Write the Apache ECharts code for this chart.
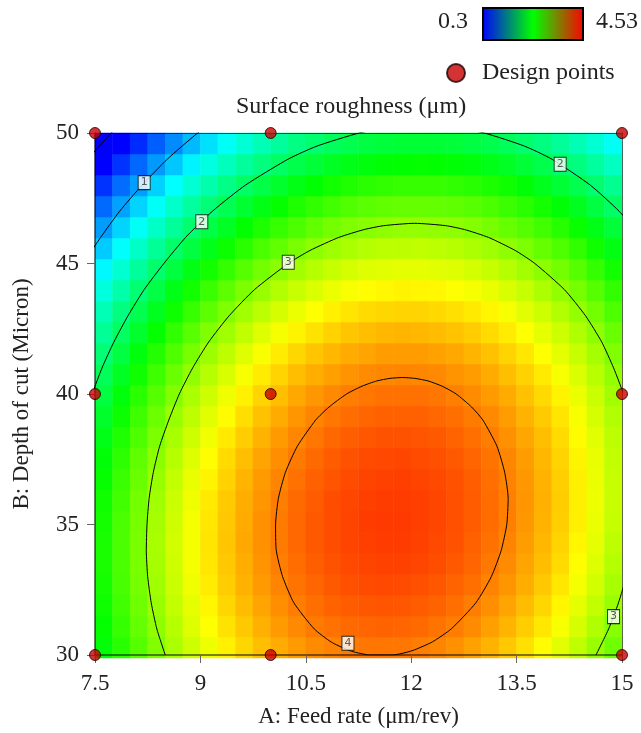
<!DOCTYPE html>
<html><head><meta charset="utf-8">
<script src="https://cdn.jsdelivr.net/npm/echarts@6/dist/echarts.min.js"></script>
<style>html,body{margin:0;padding:0;background:#fff}#c{width:641px;height:733px}</style>
</head><body><div id="c"></div>
<script>
// ---- data ----
// heatmap cell centres
const feedRateCells = [7.625,7.875,8.125,8.375,8.625,8.875,9.125,9.375,9.625,9.875,10.125,10.375,10.625,10.875,11.125,11.375,11.625,11.875,12.125,12.375,12.625,12.875,13.125,13.375,13.625,13.875,14.125,14.375,14.625,14.875];
const depthCells = [30.4,31.2,32.0,32.8,33.6,34.4,35.2,36.0,36.8,37.6,38.4,39.2,40.0,40.8,41.6,42.4,43.2,44.0,44.8,45.6,46.4,47.2,48.0,48.8,49.6];
// surface roughness estimated per cell, one row per depth (bottom row first)
const roughnessGrid = [
[2.38,2.58,2.77,2.95,3.12,3.27,3.40,3.53,3.64,3.74,3.82,3.89,3.95,3.99,4.02,4.04,4.04,4.04,4.01,3.98,3.93,3.86,3.79,3.70,3.60,3.48,3.35,3.21,3.05,2.88],
[2.43,2.64,2.83,3.01,3.17,3.33,3.47,3.59,3.70,3.80,3.89,3.96,4.02,4.06,4.09,4.11,4.12,4.11,4.09,4.05,4.01,3.95,3.87,3.78,3.68,3.57,3.44,3.30,3.14,2.97],
[2.47,2.68,2.87,3.05,3.22,3.37,3.51,3.64,3.75,3.85,3.94,4.01,4.07,4.12,4.15,4.17,4.18,4.17,4.15,4.12,4.07,4.01,3.94,3.85,3.75,3.64,3.51,3.37,3.22,3.05],
[2.50,2.71,2.90,3.08,3.25,3.41,3.55,3.68,3.79,3.89,3.98,4.05,4.11,4.16,4.20,4.22,4.23,4.22,4.20,4.17,4.12,4.07,3.99,3.91,3.81,3.70,3.57,3.43,3.28,3.11],
[2.52,2.72,2.92,3.10,3.27,3.43,3.57,3.70,3.81,3.92,4.01,4.08,4.14,4.19,4.23,4.25,4.26,4.26,4.24,4.21,4.16,4.11,4.03,3.95,3.85,3.74,3.62,3.48,3.33,3.16],
[2.52,2.73,2.92,3.11,3.28,3.43,3.58,3.71,3.83,3.93,4.02,4.10,4.16,4.21,4.25,4.27,4.28,4.28,4.26,4.23,4.19,4.13,4.06,3.98,3.88,3.77,3.65,3.51,3.37,3.20],
[2.50,2.72,2.91,3.10,3.27,3.43,3.57,3.70,3.82,3.93,4.02,4.10,4.16,4.21,4.25,4.28,4.29,4.29,4.27,4.24,4.20,4.15,4.08,4.00,3.90,3.79,3.67,3.54,3.39,3.23],
[2.48,2.69,2.89,3.08,3.25,3.41,3.56,3.69,3.81,3.91,4.01,4.09,4.15,4.21,4.24,4.27,4.28,4.28,4.27,4.24,4.20,4.15,4.08,4.00,3.91,3.80,3.68,3.54,3.40,3.24],
[2.44,2.65,2.85,3.04,3.22,3.38,3.52,3.66,3.78,3.89,3.98,4.06,4.13,4.18,4.22,4.25,4.26,4.27,4.25,4.23,4.19,4.14,4.07,3.99,3.90,3.79,3.67,3.54,3.39,3.23],
[2.39,2.60,2.81,2.99,3.17,3.33,3.48,3.62,3.74,3.85,3.94,4.02,4.09,4.15,4.19,4.22,4.23,4.24,4.22,4.20,4.16,4.11,4.05,3.97,3.88,3.77,3.65,3.52,3.38,3.22],
[2.32,2.54,2.74,2.93,3.11,3.27,3.42,3.56,3.68,3.79,3.89,3.97,4.04,4.10,4.14,4.17,4.19,4.19,4.18,4.16,4.12,4.07,4.01,3.93,3.84,3.74,3.62,3.49,3.35,3.19],
[2.24,2.46,2.67,2.86,3.04,3.20,3.35,3.49,3.61,3.73,3.82,3.91,3.98,4.04,4.08,4.11,4.13,4.13,4.13,4.10,4.07,4.02,3.96,3.88,3.79,3.69,3.58,3.45,3.30,3.15],
[2.15,2.37,2.58,2.77,2.95,3.12,3.27,3.41,3.53,3.65,3.74,3.83,3.90,3.96,4.01,4.04,4.06,4.06,4.06,4.04,4.00,3.95,3.89,3.82,3.73,3.63,3.52,3.39,3.25,3.09],
[2.05,2.27,2.48,2.67,2.85,3.02,3.17,3.31,3.44,3.55,3.65,3.74,3.81,3.87,3.92,3.95,3.97,3.98,3.97,3.96,3.92,3.88,3.82,3.74,3.66,3.56,3.44,3.32,3.18,3.03],
[1.93,2.15,2.36,2.56,2.74,2.91,3.06,3.20,3.33,3.45,3.55,3.64,3.71,3.77,3.82,3.85,3.88,3.88,3.88,3.86,3.83,3.78,3.73,3.65,3.57,3.47,3.36,3.23,3.10,2.94],
[1.80,2.02,2.23,2.43,2.61,2.78,2.94,3.08,3.21,3.33,3.43,3.52,3.59,3.66,3.71,3.74,3.77,3.78,3.77,3.75,3.72,3.68,3.62,3.55,3.47,3.37,3.26,3.14,3.00,2.85],
[1.66,1.88,2.09,2.29,2.47,2.64,2.80,2.94,3.08,3.19,3.30,3.39,3.47,3.53,3.58,3.62,3.64,3.65,3.65,3.63,3.60,3.56,3.51,3.44,3.35,3.26,3.15,3.03,2.89,2.74],
[1.50,1.72,1.94,2.13,2.32,2.49,2.65,2.80,2.93,3.05,3.15,3.24,3.32,3.39,3.44,3.48,3.50,3.52,3.51,3.50,3.47,3.43,3.38,3.31,3.23,3.13,3.02,2.90,2.77,2.62],
[1.33,1.55,1.77,1.97,2.15,2.33,2.49,2.63,2.77,2.89,2.99,3.09,3.17,3.23,3.29,3.33,3.35,3.37,3.37,3.35,3.33,3.29,3.23,3.17,3.09,2.99,2.89,2.77,2.63,2.49],
[1.14,1.37,1.59,1.79,1.98,2.15,2.31,2.46,2.59,2.72,2.82,2.92,3.00,3.07,3.12,3.16,3.19,3.20,3.21,3.19,3.17,3.13,3.08,3.01,2.93,2.84,2.74,2.62,2.48,2.34],
[0.95,1.18,1.39,1.59,1.78,1.96,2.12,2.27,2.41,2.53,2.64,2.73,2.82,2.89,2.94,2.98,3.01,3.03,3.03,3.02,3.00,2.96,2.91,2.84,2.77,2.68,2.57,2.45,2.32,2.18],
[0.74,0.97,1.18,1.39,1.58,1.76,1.92,2.07,2.21,2.33,2.44,2.54,2.62,2.69,2.75,2.79,2.82,2.84,2.84,2.83,2.81,2.78,2.73,2.66,2.59,2.50,2.39,2.28,2.15,2.00],
[0.51,0.75,0.96,1.17,1.36,1.54,1.70,1.86,1.99,2.12,2.23,2.33,2.41,2.49,2.54,2.59,2.62,2.64,2.64,2.64,2.61,2.58,2.53,2.47,2.39,2.30,2.20,2.09,1.96,1.82],
[0.28,0.51,0.73,0.94,1.13,1.31,1.48,1.63,1.77,1.89,2.01,2.11,2.19,2.27,2.32,2.37,2.40,2.42,2.43,2.42,2.40,2.37,2.32,2.26,2.19,2.10,2.00,1.89,1.76,1.62],
[0.03,0.26,0.48,0.69,0.88,1.07,1.23,1.39,1.53,1.66,1.77,1.87,1.96,2.03,2.09,2.14,2.17,2.20,2.20,2.20,2.18,2.14,2.10,2.04,1.97,1.88,1.78,1.67,1.54,1.40]
];
const colorMin = 0.3, colorMax = 4.53;
const designPoints = [[7.5,30],[7.5,40],[7.5,50],[10,30],[10,40],[10,50],[15,30],[15,40],[15,50]];
const contour0 = [[7.26,48.5],[7.40,49],[7.73,50],[7.84,50.3]];
const contour1 = [[7.33,45],[7.58,46],[7.85,47],[8.17,48],[8.53,49],[8.96,50],[9.21,50.5]];
const contour2 = [[7.34,39],[7.46,40],[7.60,41],[7.77,42],[7.97,43],[8.20,44],[8.48,45],[8.79,46],[9.17,47],[9.64,48],[10.25,49],[10.66,49.5],[11.26,50],[11.69,50.2],[12.16,50.28],[12.63,50.2],[13.04,50],[13.61,49.5],[14.00,49],[14.55,48],[14.96,47],[15.28,46]];
const contour3 = [[8.50,30],[8.38,31],[8.30,32],[8.25,33],[8.23,34],[8.24,35],[8.27,36],[8.33,37],[8.42,38],[8.55,39],[8.70,40],[8.89,41],[9.12,42],[9.41,43],[9.77,44],[10.25,45],[10.56,45.5],[10.97,46],[11.33,46.3],[11.61,46.45],[12.05,46.54],[12.49,46.45],[12.76,46.3],[13.10,46],[13.48,45.5],[13.76,45],[14.18,44],[14.48,43],[14.71,42],[14.88,41],[15.02,40],[15.11,39],[15.18,38],[15.21,37],[15.21,36],[15.19,35],[15.14,34],[15.06,33],[14.95,32],[14.81,31],[14.63,30]];
const contour4 = [[11.39,30],[11.21,30.1],[11.09,30.2],[10.86,30.5],[10.62,31],[10.33,32],[10.17,33],[10.08,34],[10.07,35],[10.11,36],[10.21,37],[10.38,38],[10.64,39],[10.83,39.5],[11.08,40],[11.30,40.3],[11.51,40.5],[11.70,40.6],[11.88,40.63],[12.05,40.6],[12.24,40.5],[12.44,40.3],[12.64,40],[12.86,39.5],[13.02,39],[13.22,38],[13.33,37],[13.38,36],[13.36,35],[13.28,34],[13.14,33],[12.92,32],[12.57,31],[12.30,30.5],[12.05,30.2],[11.93,30.1],[11.74,30],[11.39,30]];
const contourLabels = [[8.2,48.1,1],[9.02,46.6,2],[10.25,45.05,3],[14.12,48.8,2],[11.1,30.45,4],[14.88,31.47,3]];

// ---- chart ----
const FONT = "'Liberation Serif', 'Times New Roman', serif";
const heatData = [];
roughnessGrid.forEach((row, j) => row.forEach((v, i) => heatData.push([i, j, v])));

const chart = echarts.init(document.getElementById('c'), null, {renderer: 'canvas'});
const gridBox = {left: 95, right: 19, top: 133, bottom: 75};
const lineSeries = (d) => ({
  type: 'line', xAxisIndex: 0, yAxisIndex: 0, data: d, showSymbol: false, symbol: 'none',
  smooth: 0.2, lineStyle: {color: '#000', width: 1}, z: 3, silent: true, clip: true
});
const option = {
  animation: false,
  backgroundColor: '#fff',
  title: {
    text: 'Surface roughness (μm)', left: 236, top: 95, padding: 0,
    textStyle: {fontFamily: FONT, fontSize: 24, fontWeight: 'normal', color: '#222'}
  },
  legend: {
    data: [{name: 'Design points', icon: 'circle'}],
    left: 446, top: 61, itemWidth: 18, itemHeight: 18, padding: 0,
    textStyle: {fontFamily: FONT, fontSize: 24, color: '#222', padding: [0, 0, 0, 12]}
  },
  visualMap: {
    show: false, type: 'continuous', min: colorMin, max: colorMax, seriesIndex: 0,
    inRange: {color: ['#0000ff', '#00ffff', '#00ff00', '#ffff00', '#ff0000']},
    outOfRange: {color: ['#0000ff']}
  },
  graphic: [
    {type: 'rect', left: 482, top: 7, shape: {width: 100, height: 32},
     style: {fill: new echarts.graphic.LinearGradient(0, 0, 1, 0, [
       {offset: 0, color: '#0000ff'}, {offset: 0.5, color: '#00ff00'}, {offset: 1, color: '#ff0000'}]),
       stroke: '#000', lineWidth: 2}},
    {type: 'text', right: 641 - 468, top: 10, style: {text: String(colorMin), font: '24px ' + FONT, fill: '#222'}},
    {type: 'text', left: 596, top: 10, style: {text: String(colorMax), font: '24px ' + FONT, fill: '#222'}}
  ],
  grid: [Object.assign({}, gridBox), Object.assign({}, gridBox)],
  xAxis: [
    {gridIndex: 0, type: 'value', min: 7.5, max: 15, interval: 1.5, position: 'bottom', z: 10,
     name: 'A: Feed rate (μm/rev)', nameLocation: 'middle', nameGap: 50,
     nameTextStyle: {fontFamily: FONT, fontSize: 23, color: '#222'},
     axisLine: {show: true, onZero: false, lineStyle: {color: 'rgba(0,0,0,0.65)', width: 1.5}},
     axisTick: {show: true, length: 8, lineStyle: {color: '#666'}},
     axisLabel: {margin: 17, fontFamily: FONT, fontSize: 23, color: '#222'},
     splitLine: {show: false}},
    {gridIndex: 0, type: 'value', min: 7.5, max: 15, position: 'top', z: 10,
     axisLine: {show: true, onZero: false, lineStyle: {color: 'rgba(0,0,0,0.6)', width: 1}},
     axisTick: {show: false}, axisLabel: {show: false}, splitLine: {show: false}},
    {gridIndex: 1, type: 'category', data: feedRateCells.map(String), show: false}
  ],
  yAxis: [
    {gridIndex: 0, type: 'value', min: 30, max: 50, interval: 5, position: 'left', z: 10,
     name: 'B: Depth of cut (Micron)', nameLocation: 'middle', nameGap: 62,
     nameTextStyle: {fontFamily: FONT, fontSize: 23, color: '#222'},
     axisLine: {show: true, onZero: false, lineStyle: {color: 'rgba(0,0,0,0.65)', width: 1.5}},
     axisTick: {show: true, length: 8, lineStyle: {color: '#666'}},
     axisLabel: {margin: 16, fontFamily: FONT, fontSize: 23, color: '#222'},
     splitLine: {show: false}},
    {gridIndex: 0, type: 'value', min: 30, max: 50, position: 'right', z: 10,
     axisLine: {show: true, onZero: false, lineStyle: {color: 'rgba(0,0,0,0.6)', width: 1}},
     axisTick: {show: false}, axisLabel: {show: false}, splitLine: {show: false}},
    {gridIndex: 1, type: 'category', data: depthCells.map(String), show: false}
  ],
  series: [
    {type: 'heatmap', xAxisIndex: 2, yAxisIndex: 2, data: heatData, z: 1, silent: true, progressive: 0},
    lineSeries(contour0), lineSeries(contour1), lineSeries(contour2), lineSeries(contour3), lineSeries(contour4),
    {type: 'scatter', xAxisIndex: 0, yAxisIndex: 0, data: contourLabels, symbol: 'rect', symbolSize: [12, 14],
     itemStyle: {color: '#fff', borderColor: '#000', borderWidth: 1}, z: 4, silent: true,
     label: {show: true, position: 'inside', formatter: (p) => p.value[2], fontSize: 11,
             fontFamily: 'DejaVu Sans, sans-serif', color: '#333'}},
    {name: 'Design points', type: 'scatter', xAxisIndex: 0, yAxisIndex: 0, data: designPoints,
     symbol: 'circle', symbolSize: 11, clip: false, z: 20,
     itemStyle: {color: '#c80000', borderColor: '#1a0000', borderWidth: 1}}
  ]
};
chart.setOption(option);
</script>
</body></html>
